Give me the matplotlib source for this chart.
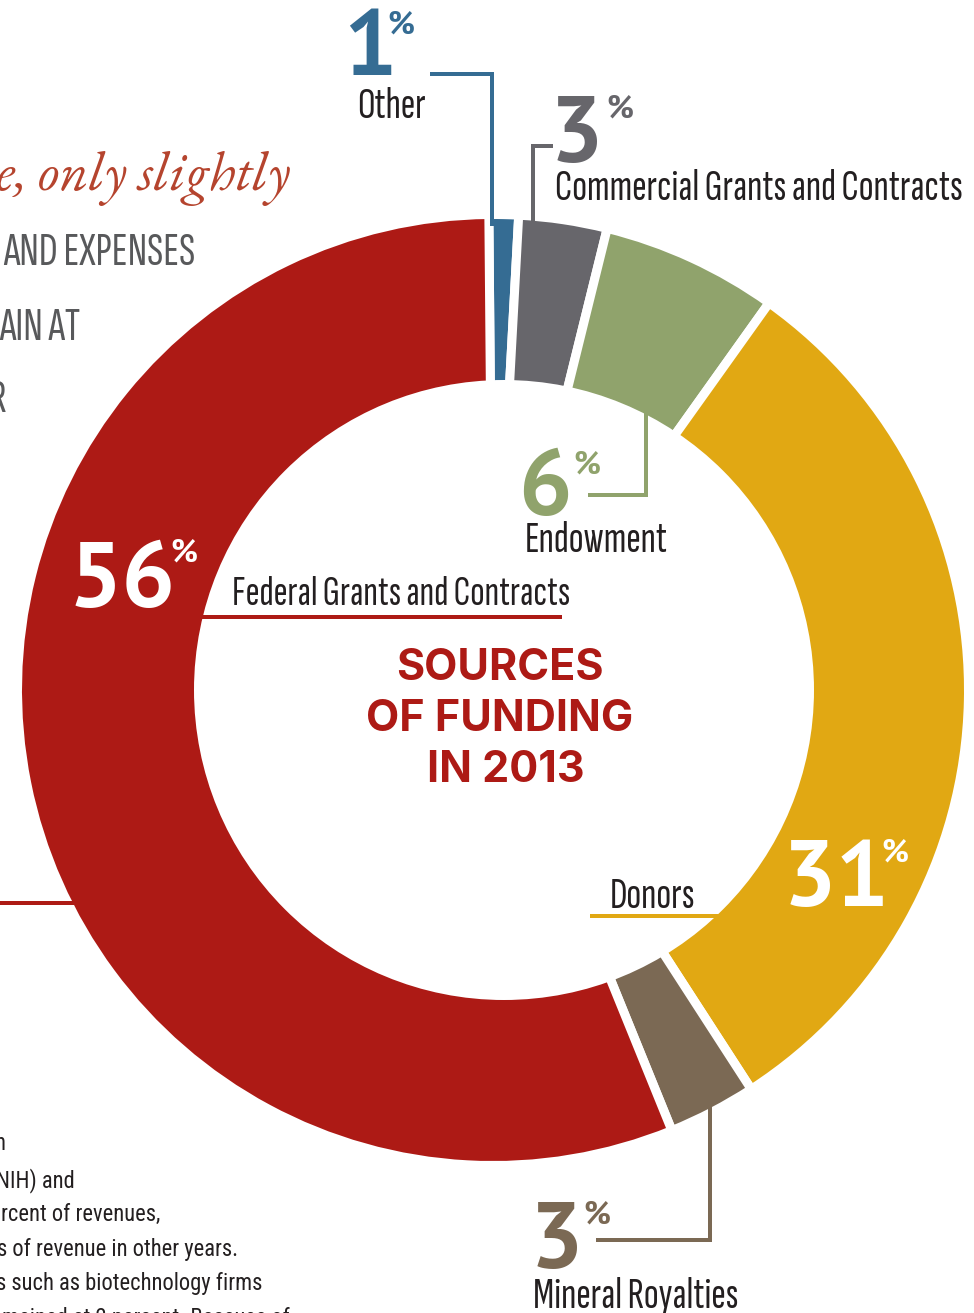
import math
import matplotlib
matplotlib.use("Agg")
import matplotlib.pyplot as plt
from matplotlib.patches import Circle
from matplotlib.font_manager import FontProperties, findfont
from matplotlib.textpath import TextPath

# ---- data ----
categories = ["Other", "Commercial Grants and Contracts", "Endowment",
              "Donors", "Mineral Royalties", "Federal Grants and Contracts"]
values = [1, 3, 6, 31, 3, 56]
pct_labels = ["1", "3", "6", "31", "3", "56"]
colors = ["#356C93", "#67666B", "#90A36C", "#E1A813", "#7B6954", "#AD1A15"]
title_lines = ["SOURCES", "OF FUNDING", "IN 2013"]
side_heading = "e, only slightly"
side_caps = ["AND EXPENSES", "AIN AT", "R"]
side_body = ["n", "NIH) and", "rcent of revenues,", "s of revenue in other years.",
             "s such as biotechnology firms", "mained at 2 percent. Because of"]

W, H = 974, 1313
PT = 0.72  # points per pixel at dpi 100


def Y(y):
    return H - y


def available(name, weight="normal"):
    try:
        findfont(FontProperties(family=name, weight=weight), fallback_to_default=False)
        return True
    except Exception:
        return False


def ink(s, name, weight="normal"):
    fp = FontProperties(family=name, weight=weight)
    e = TextPath((0, 0), s, size=1, prop=fp).get_extents()
    return e.width, e.height


def pick(cands, sample, target_w, target_h, ref_char="H", weight="normal"):
    best = None
    for c in cands:
        if not available(c, weight):
            continue
        w, _ = ink(sample, c, weight)
        _, h = ink(ref_char, c, weight)
        if w <= 0 or h <= 0:
            continue
        err = abs(math.log((w / h) / (target_w / target_h)))
        if best is None or err < best[0]:
            best = (err, c, w, h)
    if best is None:
        return "DejaVu Sans", target_h / 0.73 * PT
    _, c, w, h = best
    px = math.sqrt((target_h / h) * (target_w / w))
    return c, px * PT


NARROW_CANDS = ["Fira Sans Extra Condensed", "Sofia Sans Extra Condensed",
                "Sofia Sans Condensed", "Roboto Condensed", "Open Sans Condensed",
                "Barlow Condensed", "Barlow Semi Condensed", "Asap Condensed",
                "PT Sans Narrow", "Archivo Narrow", "Fira Sans Condensed",
                "IBM Plex Sans Condensed", "Encode Sans Condensed", "Saira Condensed"]
LABEL_FONT, LABEL_FS = pick(NARROW_CANDS, "Federal Grants and Contracts", 331, 28)
BODY_FONT, BODY_FS = pick(["Source Sans 3", "PT Sans", "Fira Sans Condensed", "PT Sans Narrow",
                           "Roboto Condensed", "Open Sans Condensed", "Lato"],
                          "s of revenue in other years.", 238, 16)
BIG_FAMILY = ["PT Sans", "DejaVu Sans"]
BIG_FS = 68

fig = plt.figure(figsize=(W / 100, H / 100), dpi=100)
ax = fig.add_axes([0, 0, 1, 1])

GAP = 9  # px
cx, cy, R = 493, 690, 471
ax.pie(values, colors=colors, startangle=90.5, counterclock=False,
       center=(cx, Y(cy)), radius=R + GAP / 2, frame=True,
       wedgeprops=dict(edgecolor="white", linewidth=GAP * PT))
ax.set_xlim(0, W)
ax.set_ylim(0, H)
ax.set_aspect("auto")
ax.axis("off")
ax.add_patch(Circle((504, Y(690)), 310, facecolor="white", edgecolor="none", zorder=3))

LW = 4 * PT


def leader(pts, color):
    ax.plot([p[0] for p in pts], [Y(p[1]) for p in pts], color=color, lw=LW,
            solid_capstyle="butt", solid_joinstyle="miter", zorder=4)


def big(num, x, base, color, pctx, pcttop):
    ax.text(x, Y(base), num, family=BIG_FAMILY, fontweight="bold",
            fontsize=BIG_FS, color=color, ha="left", va="baseline", zorder=5)
    ax.text(pctx, Y(pcttop), "%", family=BIG_FAMILY, fontweight="bold",
            fontsize=23, color=color, ha="left", va="top", zorder=5)


def label(s, x, base, scale=1.04):
    ax.text(x, Y(base), s, family=[LABEL_FONT, "DejaVu Sans"], fontsize=LABEL_FS * scale,
            color="#231F20", ha="left", va="baseline", zorder=5)


# Other
leader([(430, 74), (492, 74), (492, 226)], colors[0])
big(pct_labels[0], 343, 75, colors[0], 387, 10)
label(categories[0], 357, 118)

# Commercial
leader([(553, 146), (533, 146), (533, 230)], colors[1])
big(pct_labels[1], 550, 162, colors[1], 606, 94)
label(categories[1], 555, 200)

# Endowment
leader([(646, 405), (646, 495), (588, 495)], colors[2])
big(pct_labels[2], 518, 515, colors[2], 573, 450)
label(categories[2], 525, 552)

# Federal
leader([(200, 617), (562, 617)], colors[5])
big(pct_labels[5], 69, 607, "white", 170, 539)
label(categories[5], 232, 605, scale=1.0)

# Donors
leader([(590, 916), (730, 916)], colors[3])
label(categories[3], 610, 908)
big(pct_labels[3], 783, 906, "white", 881, 839)

# Mineral
leader([(710, 1095), (710, 1240), (596, 1240)], colors[4])
big(pct_labels[4], 530, 1268, colors[4], 583, 1200)
label(categories[4], 533, 1308)

# left leader fragment
leader([(0, 903), (74, 903)], colors[5])

# centre title
for s, xc, base in zip(title_lines, [500, 500, 506], [680, 731, 782]):
    ax.text(xc, Y(base), s, family=["Inter", "DejaVu Sans"], fontweight="bold",
            fontsize=31, color="#AD1A15", ha="center", va="baseline", zorder=5)

# side text fragments
ax.text(290, Y(190), side_heading, family=["EB Garamond", "DejaVu Serif"],
        style="italic", fontsize=40, color="#B5442E", ha="right", va="baseline")
for s, xr, base in zip(side_caps, [195, 80, 6], [265, 340, 412]):
    ax.text(xr, Y(base), s, family=[LABEL_FONT, "DejaVu Sans"], fontsize=LABEL_FS * 1.12,
            color="#58595B", ha="right", va="baseline")
for s, xr, base in zip(side_body, [6, 75, 160, 238, 262, 290],
                       [1150, 1187, 1221, 1256, 1290, 1325]):
    ax.text(xr, Y(base), s, family=[BODY_FONT, "DejaVu Sans"], fontsize=BODY_FS,
            color="#231F20", ha="right", va="baseline")

fig.savefig("out.png", dpi=100, facecolor="white")
